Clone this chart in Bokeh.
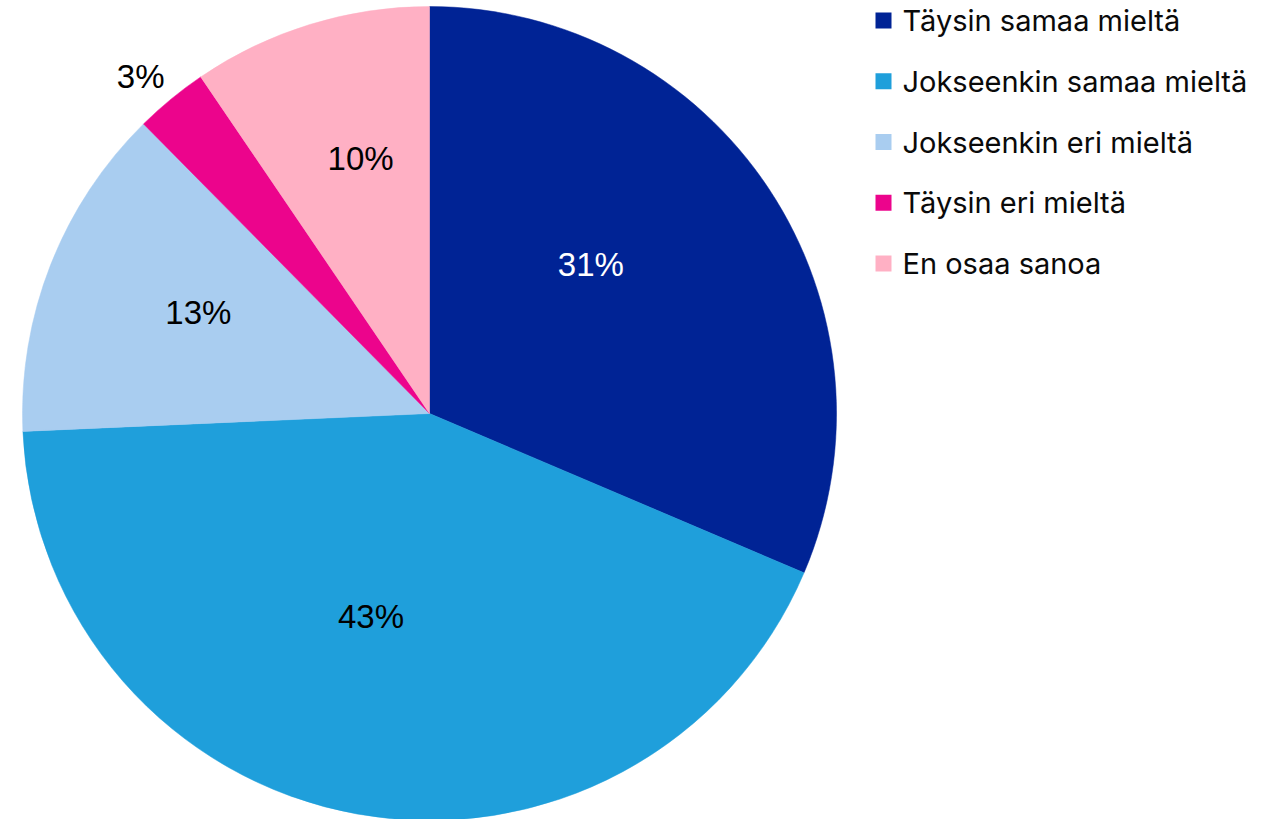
import numpy as np
from bokeh.plotting import figure
from bokeh.models import Range1d, ColumnDataSource
from bokeh.core.properties import value
from bokeh.embed import file_html
from bokeh.resources import INLINE

# ---- data ----
categories = ["Täysin samaa mieltä", "Jokseenkin samaa mieltä",
              "Jokseenkin eri mieltä", "Täysin eri mieltä", "En osaa sanoa"]
shares = [31.4, 42.9, 13.3, 2.9, 9.5]
labels = ["31%", "43%", "13%", "3%", "10%"]
colors = ["#002395", "#1F9FDB", "#A9CDF0", "#EC048C", "#FFB0C4"]

# ---- layout ----
W, H = 1271, 819
p = figure(width=W, height=H, x_range=Range1d(0, W), y_range=Range1d(0, H),
           output_backend="svg", toolbar_location=None, min_border=0)
p.axis.visible = False
p.grid.visible = False
p.outline_line_color = None
p.background_fill_color = "white"
p.border_fill_color = "white"

cx, cy, R = 429, H - 413, 407
frac = np.array(shares) / np.sum(shares)
cum = np.concatenate([[0.0], np.cumsum(frac)])
start = np.pi / 2 - 2 * np.pi * cum[:-1]
end = np.pi / 2 - 2 * np.pi * cum[1:]

src = ColumnDataSource(dict(start=start, end=end, color=colors))
p.wedge(x=cx, y=cy, radius=R, start_angle="start", end_angle="end",
        direction="clock", fill_color="color", line_color="color",
        line_width=0.5, source=src)

# data labels
label_r = [0.54, 0.52, 0.62, 1.09, 0.65]
label_dang = [-9.3, 5.8, 2.2, -1.2, 2.0]
mid = (cum[:-1] + cum[1:]) / 2
ang = np.deg2rad(mid * 360 + np.array(label_dang))
lx = cx + np.array(label_r) * R * np.sin(ang)
ly = cy + np.array(label_r) * R * np.cos(ang)
tcol = ["white", "black", "black", "black", "black"]
lsrc = ColumnDataSource(dict(x=lx, y=ly, t=labels, c=tcol))
p.text(x="x", y="y", text="t", text_color="c", source=lsrc,
       text_font=value("Liberation Sans"), text_font_size="33px",
       text_align="center", text_baseline="middle")

# legend (manual)
row_top = 20 + np.arange(len(categories)) * 60.75
gy = H - row_top
gsrc = ColumnDataSource(dict(x=[883] * len(categories), tx=[902] * len(categories),
                             y=gy, c=colors, t=categories))
p.rect(x="x", y="y", width=16, height=16, fill_color="c", line_color=None, source=gsrc)
p.text(x="tx", y="y", text="t", source=gsrc, text_color="#0a0a0a",
       text_font=value("Inter"), text_font_size="29px",
       text_align="left", text_baseline="middle")

open("out.html", "w").write(file_html(p, INLINE))
